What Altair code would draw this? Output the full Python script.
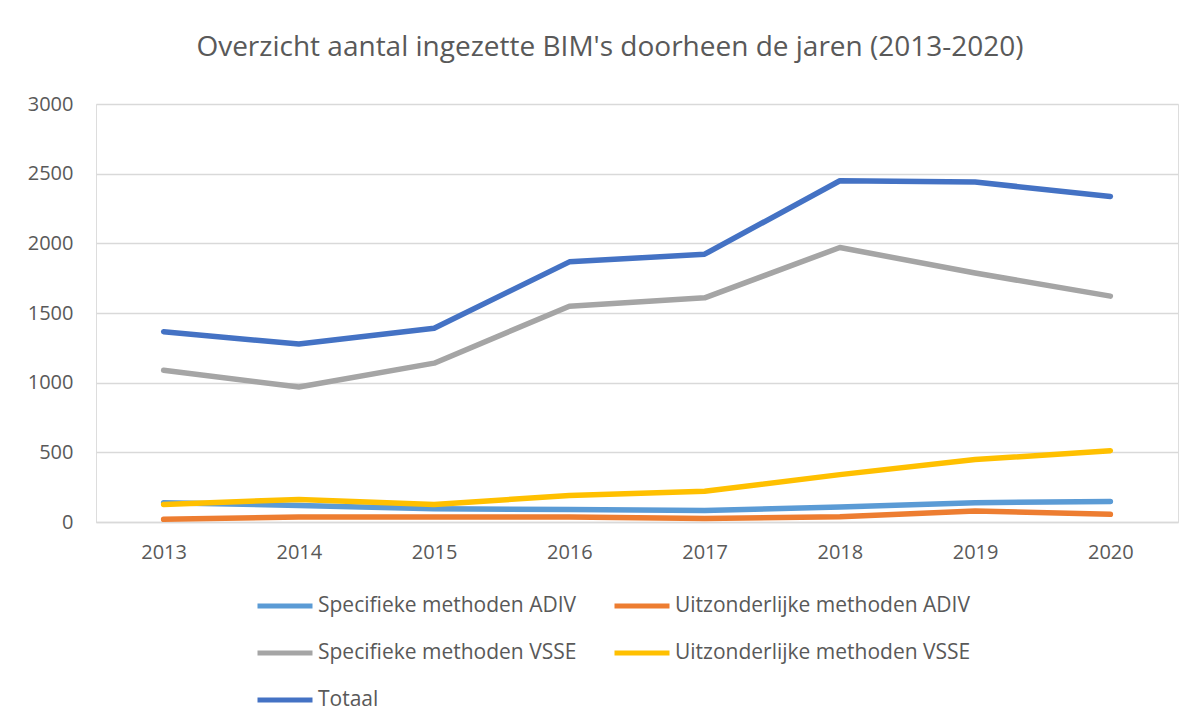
import altair as alt
import pandas as pd

years = ["2013", "2014", "2015", "2016", "2017", "2018", "2019", "2020"]
series_names = [
    "Specifieke methoden ADIV",
    "Uitzonderlijke methoden ADIV",
    "Specifieke methoden VSSE",
    "Uitzonderlijke methoden VSSE",
    "Totaal",
]
spec_adiv = [138, 119, 95, 90, 83, 107, 138, 148]
uitz_adiv = [19, 36, 36, 36, 26, 38, 79, 55]
spec_vsse = [1089, 969, 1140, 1549, 1609, 1970, 1787, 1621]
uitz_vsse = [126, 162, 126, 190, 221, 340, 448, 512]
totaal = [1366, 1277, 1390, 1867, 1922, 2449, 2440, 2336]
colors = ["#5B9BD5", "#ED7D31", "#A5A5A5", "#FFC000", "#4472C4"]
y_ticks = [0, 500, 1000, 1500, 2000, 2500, 3000]

rows = []
for i, (name, vals) in enumerate(zip(series_names, [spec_adiv, uitz_adiv, spec_vsse, uitz_vsse, totaal])):
    for y, v in zip(years, vals):
        rows.append({"Jaar": y, "Reeks": name, "Aantal": v, "volgorde": i})
df = pd.DataFrame(rows)

# legend is filled column by column: order the domain so it reads row by row
legend_order = [series_names[0], series_names[2], series_names[4], series_names[1], series_names[3]]
legend_colors = [colors[0], colors[2], colors[4], colors[1], colors[3]]

FONT = "Open Sans"
GREY = "#595959"

chart = alt.Chart(df).mark_line(strokeWidth=5.5, strokeCap="round", strokeJoin="round").encode(
    x=alt.X("Jaar:O", sort=years, scale=alt.Scale(type="point", padding=0.5),
            axis=alt.Axis(title=None, labelAngle=0, ticks=False, domain=True,
                          domainColor="#d9d9d9", domainWidth=1.5, labelPadding=20,
                          labelFontSize=20, labelColor=GREY, labelFont=FONT)),
    y=alt.Y("Aantal:Q", scale=alt.Scale(domain=[0, 3000], nice=False),
            axis=alt.Axis(title=None, values=y_ticks, format="d", ticks=False, domain=False,
                          gridColor="#d9d9d9", gridWidth=1.5, labelPadding=23,
                          labelFontSize=20, labelColor=GREY, labelFont=FONT)),
    color=alt.Color("Reeks:N", sort=legend_order,
                    scale=alt.Scale(domain=legend_order, range=legend_colors),
                    legend=alt.Legend(title=None, orient="none", legendX=159, legendY=472,
                                      columns=2, columnPadding=27, rowPadding=7,
                                      symbolType="stroke", symbolSize=3025,
                                      symbolStrokeWidth=5, labelOffset=3,
                                      labelFontSize=21, labelColor=GREY, labelFont=FONT,
                                      labelLimit=400)),
    order=alt.Order("volgorde:Q"),
).properties(
    width=1082,
    height=418,
    padding={"left": 88, "top": 96, "right": 10, "bottom": 196},
    autosize=alt.AutoSizeParams(type="none"),
    title=alt.TitleParams("Overzicht aantal ingezette BIM's doorheen de jaren (2013-2020)",
                          font=FONT, fontSize=28, fontWeight="normal", color=GREY,
                          anchor="middle", dx=-27, offset=32),
).configure_view(stroke=None).configure(background="white")

chart.save("out.html", embed_options={"renderer": "svg", "actions": False})
